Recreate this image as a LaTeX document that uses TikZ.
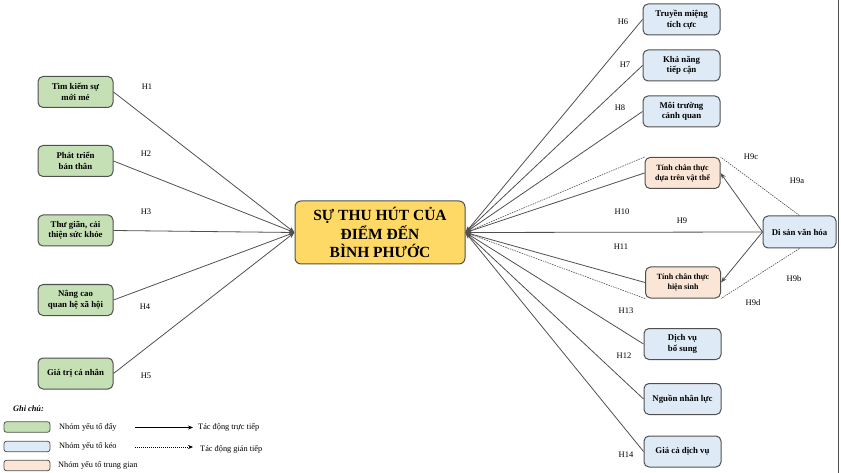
\documentclass[tikz,border=0pt]{standalone}
\usepackage{fontspec}
\setmainfont{Liberation Serif}
\usetikzlibrary{arrows.meta}
\definecolor{pushgreen}{HTML}{C5E0B4}
\definecolor{pullblue}{HTML}{DEEBF7}
\definecolor{midpeach}{HTML}{FBE5D6}
\definecolor{coreyellow}{HTML}{FFD966}
\definecolor{edgegray}{HTML}{505050}
\begin{document}
\begin{tikzpicture}[x=1pt,y=-1pt,
 box/.style={draw=edgegray, line width=1pt, rounded corners=5pt, align=center, font=\fontsize{8.8}{10.5}\selectfont\bfseries, inner sep=1pt, minimum height=31pt},
 push/.style={box, fill=pushgreen, minimum width=75pt},
 pull/.style={box, fill=pullblue, minimum width=77pt},
 mid/.style={box, fill=midpeach, minimum width=75pt, font=\fontsize{8}{10}\selectfont\bfseries},
 hlab/.style={font=\fontsize{8.5}{10}\selectfont, inner sep=0pt},
 legtext/.style={font=\fontsize{8.3}{10}\selectfont, inner sep=0pt, anchor=west},
 conn/.style={draw=edgegray, line width=0.8pt, -{Stealth[length=6pt,width=4.5pt]}},
 indirect/.style={draw=edgegray, line width=0.6pt, dash pattern=on 1.5pt off 1pt, -{Stealth[length=6pt,width=4.5pt]}},
 plainind/.style={draw=edgegray, line width=0.6pt, dash pattern=on 1.5pt off 1pt}
]
\useasboundingbox (0,0) rectangle (841,473);
\draw[edgegray, line width=0.8pt] (838.5,0) -- (838.5,473);

% center
\node[draw=edgegray, line width=1pt, rounded corners=6pt, fill=coreyellow, minimum width=170pt, minimum height=63pt, align=center, inner sep=1pt, font=\fontsize{15.5}{18.5}\selectfont\bfseries] (core) at (380,232.5) {SỰ THU HÚT CỦA\\ĐIỂM ĐẾN\\BÌNH PHƯỚC};

% push factors
\node[push] (l1) at (75.5,92) {Tìm kiếm sự\\mới mẻ};
\node[push] (l2) at (75.5,161) {Phát triển\\bản thân};
\node[push] (l3) at (75.5,230.5) {Thư giãn, cải\\thiện sức khỏe};
\node[push] (l4) at (75.5,300) {Nâng cao\\quan hệ xã hội};
\node[push] (l5) at (75.5,373.5) {Giá trị cá nhân};

% pull factors
\node[pull] (r1) at (681.5,19.5) {Truyền miệng\\tích cực};
\node[pull] (r2) at (681.5,65.5) {Khả năng\\tiếp cận};
\node[pull] (r3) at (681.5,111.5) {Môi trường\\cảnh quan};
\node[pull] (r4) at (682.5,344) {Dịch vụ\\bổ sung};
\node[pull] (r5) at (682.5,399) {Nguồn nhân lực};
\node[pull] (r6) at (682.5,451.5) {Giá cả dịch vụ};
\node[box, fill=pullblue, minimum width=73pt, minimum height=32pt] (ds) at (799.5,232) {Di sản văn hóa};

% mediators
\node[mid] (m1) at (682.5,173) {Tính chân thực\\dựa trên vật thể};
\node[mid] (m2) at (683,282.5) {Tính chân thực\\hiện sinh};

% left connectors
\foreach \n in {l1,l2,l3,l4,l5} \draw[conn] (\n.east) -- (core.west);
% right connectors
\foreach \n in {r1,r2,r3,r4,r5,r6} \draw[conn] (\n.west) -- (core.east);
\draw[conn] (m1.west) -- (core.east);
\draw[conn] (m2.west) -- (core.east);
\draw[indirect] (m1.north west) -- (core.east);
\draw[indirect] (m2.south west) -- (core.east);
\draw[conn] (ds.west) -- (core.east);
\draw[conn] (ds.west) -- (m1.east);
\draw[conn] (ds.west) -- (m2.east);
\draw[plainind] (ds.north) -- (m1.north east);
\draw[plainind] (ds.south) -- (m2.south east);

% labels
\node[hlab] (h1) at (147,87) {H1};
\node[hlab] (h2) at (146,154) {H2};
\node[hlab] (h3) at (146,212) {H3};
\node[hlab] (h4) at (145,307) {H4};
\node[hlab] (h5) at (146,376) {H5};
\node[hlab] (h6) at (623,22) {H6};
\node[hlab] (h7) at (625,65) {H7};
\node[hlab] (h8) at (620,108) {H8};
\node[hlab] (h9c) at (751,157) {H9c};
\node[hlab] (h9a) at (797,181) {H9a};
\node[hlab] (h10) at (622,212) {H10};
\node[hlab] (h9) at (682,221) {H9};
\node[hlab] (h11) at (621,247) {H11};
\node[hlab] (h9b) at (794,279) {H9b};
\node[hlab] (h9d) at (753,303) {H9d};
\node[hlab] (h13) at (626,311) {H13};
\node[hlab] (h12) at (624,356) {H12};
\node[hlab] (h14) at (626,455) {H14};

% legend
\node[font=\fontsize{8.3}{10}\selectfont\bfseries\itshape, inner sep=0pt, anchor=west] (note) at (13,409) {Ghi chú:};
\node[draw=edgegray, line width=0.8pt, rounded corners=2.5pt, fill=pushgreen, minimum width=46pt, minimum height=10.5pt, inner sep=0pt] (lg1) at (27,427) {};
\node[draw=edgegray, line width=0.8pt, rounded corners=2.5pt, fill=pullblue, minimum width=46pt, minimum height=10.5pt, inner sep=0pt] (lg2) at (27,446.5) {};
\node[draw=edgegray, line width=0.8pt, rounded corners=2.5pt, fill=midpeach, minimum width=46pt, minimum height=10.5pt, inner sep=0pt] (lg3) at (27,465.5) {};
\node[legtext] (lt1) at (59,427) {Nhóm yếu tố đẩy};
\node[legtext] (lt2) at (59,446.5) {Nhóm yếu tố kéo};
\node[legtext] (lt3) at (58,465.5) {Nhóm yếu tố trung gian};
\coordinate (da1) at (135,427.5);
\coordinate (da2) at (193,427.5);
\coordinate (ia1) at (135,447);
\coordinate (ia2) at (193,447);
\draw[draw=black, line width=0.6pt, -{Stealth[length=5pt,width=4pt]}] (da1) -- (da2);
\draw[draw=black, line width=0.6pt, dash pattern=on 1.2pt off 0.8pt, -{Stealth[length=5pt,width=4pt]}] (ia1) -- (ia2);
\node[legtext] (at1) at (198,427) {Tác động trực tiếp};
\node[legtext] (at2) at (200,449) {Tác động gián tiếp};
\end{tikzpicture}
\end{document}
